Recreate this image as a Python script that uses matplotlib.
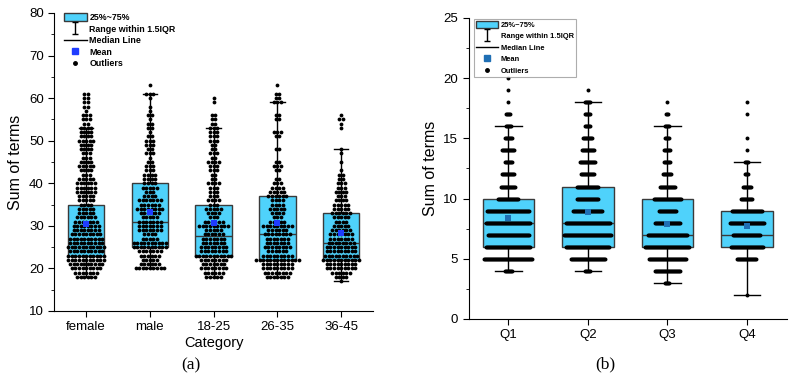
import matplotlib.pyplot as plt
from matplotlib.lines import Line2D
from matplotlib.patches import Patch
from matplotlib.path import Path

plt.rcParams['font.family'] = ['Liberation Sans', 'DejaVu Sans']

# ---- panel (a): demographic categories ----
cats_a = ["female", "male", "18-25", "26-35", "36-45"]

# (value, number of respondents) for every category
female = [(61, 2), (60, 2), (59, 2), (58, 2), (57, 1), (56, 3), (55, 3), (54, 2), (53, 4),
          (52, 4), (51, 4), (50, 5), (49, 4), (48, 4), (47, 3), (46, 3), (45, 4), (44, 5),
          (43, 4), (42, 3), (41, 5), (40, 6), (39, 6), (38, 6), (37, 5), (36, 5), (35, 4),
          (34, 5), (33, 5), (32, 6), (31, 7), (30, 8), (29, 8), (28, 9), (27, 10), (26, 10),
          (25, 11), (24, 10), (23, 11), (22, 11), (21, 10), (20, 9), (19, 7), (18, 6)]
male = [(63, 1), (61, 3), (60, 1), (58, 1), (57, 1), (56, 2), (55, 1), (54, 2), (53, 2),
        (52, 1), (51, 2), (50, 3), (49, 3), (48, 2), (47, 3), (46, 1), (45, 2), (44, 3),
        (43, 3), (42, 4), (41, 4), (40, 4), (39, 5), (38, 3), (37, 4), (36, 7), (35, 6),
        (34, 8), (33, 6), (32, 5), (31, 7), (30, 7), (29, 7), (28, 4), (27, 5), (26, 10),
        (25, 10), (24, 7), (23, 6), (22, 5), (21, 6), (20, 9)]
age_18_25 = [(60, 1), (59, 1), (56, 2), (55, 2), (54, 2), (53, 3), (52, 3), (51, 3), (50, 3),
             (49, 2), (48, 2), (47, 3), (46, 2), (45, 4), (44, 3), (43, 3), (42, 2), (41, 2),
             (40, 4), (39, 3), (38, 3), (37, 3), (36, 4), (35, 3), (34, 5), (33, 4), (32, 3),
             (31, 6), (30, 9), (29, 5), (28, 6), (27, 7), (26, 7), (25, 8), (24, 8), (23, 11),
             (22, 8), (21, 7), (20, 8), (19, 6), (18, 5)]
age_26_35 = [(63, 1), (61, 2), (60, 2), (59, 3), (56, 2), (55, 2), (52, 3), (51, 2), (48, 2),
             (45, 2), (44, 3), (43, 2), (41, 2), (40, 3), (39, 4), (38, 5), (37, 6), (36, 4),
             (35, 4), (34, 5), (33, 4), (32, 3), (31, 5), (30, 9), (29, 6), (28, 8), (27, 7),
             (26, 7), (25, 8), (24, 6), (23, 9), (22, 13), (21, 9), (20, 9), (19, 8), (18, 7)]
age_36_45 = [(56, 1), (55, 2), (54, 1), (53, 1), (48, 1), (47, 1), (45, 1), (43, 1), (42, 2),
             (41, 2), (40, 3), (39, 3), (38, 4), (37, 3), (36, 4), (35, 5), (34, 5), (33, 6),
             (32, 5), (31, 4), (30, 5), (29, 6), (28, 7), (27, 7), (26, 8), (25, 9), (24, 9),
             (23, 10), (22, 11), (21, 9), (20, 9), (19, 6), (18, 4), (17, 1)]
points_a = [female, male, age_18_25, age_26_35, age_36_45]

q1_a = [23, 25, 23, 22, 22]
med_a = [27, 31, 27.5, 28, 26]
q3_a = [35, 40, 35, 37, 33]
lo_a = [18, 20, 18, 18, 17]
hi_a = [53, 61, 53, 59, 48]
mean_a = [30.5, 33.2, 30.6, 30.7, 28.3]

# ---- panel (b): quarters ----
cats_b = ["Q1", "Q2", "Q3", "Q4"]
quarter1 = [(4, 8), (5, 49), (6, 45), (7, 42), (8, 45), (9, 43), (10, 21), (11, 15), (12, 13),
            (13, 8), (14, 13), (15, 8), (16, 6), (17, 5), (18, 1), (19, 1), (20, 1)]
quarter2 = [(4, 6), (5, 35), (6, 44), (7, 48), (8, 45), (9, 30), (10, 22), (11, 22), (12, 14),
            (13, 16), (14, 13), (15, 10), (16, 6), (17, 6), (18, 6), (19, 1)]
quarter3 = [(3, 5), (4, 26), (5, 38), (6, 45), (7, 40), (8, 26), (9, 18), (10, 28), (11, 16),
            (12, 9), (13, 7), (14, 7), (15, 5), (16, 5), (17, 3), (18, 1)]
quarter4 = [(2, 1), (5, 20), (6, 33), (7, 28), (8, 35), (9, 31), (10, 12), (11, 9), (12, 4),
            (13, 4), (14, 1), (15, 1), (17, 1), (18, 1)]
points_b = [quarter1, quarter2, quarter3, quarter4]

q1_b = [6, 6, 6, 6]
med_b = [8, 8, 7, 7]
q3_b = [10, 11, 10, 9]
lo_b = [4, 4, 3, 2]
hi_b = [16, 18, 16, 13]
mean_b = [8.4, 8.9, 7.9, 7.7]

BOX = '#4fd2fb'
EDGE = '#3a3a3a'


def draw_panel(ax, cats, points, q1, med, q3, lo, hi, mean, width, capw, step, dot, mean_col):
    pos = list(range(1, len(cats) + 1))
    stats = [dict(q1=a, med=b, q3=c, whislo=d, whishi=e, mean=m, fliers=[])
             for a, b, c, d, e, m in zip(q1, med, q3, lo, hi, mean)]
    ax.bxp(stats, positions=pos, widths=width, capwidths=capw, patch_artist=True,
           showmeans=False, showfliers=False,
           boxprops=dict(facecolor=BOX, edgecolor=EDGE, linewidth=1.0),
           medianprops=dict(color=EDGE, linewidth=1.0),
           whiskerprops=dict(color='black', linewidth=1.0),
           capprops=dict(color='black', linewidth=1.0), zorder=2)
    # data points, spread sideways
    for p, pts in zip(pos, points):
        xs, ys = [], []
        for v, n in pts:
            for k in range(n):
                xs.append(p + (k - (n - 1) / 2) * step)
                ys.append(v)
        ax.scatter(xs, ys, s=dot, color='black', linewidths=0, zorder=3)
    ax.scatter(pos, mean, marker='s', s=24, color=mean_col, linewidths=0, zorder=4)
    ax.set_xticks(pos)
    ax.set_xticklabels(cats, fontsize=9.5)
    ax.set_xlim(0.5, len(cats) + 0.5)
    ax.spines['top'].set_visible(False)
    ax.spines['right'].set_visible(False)
    ax.tick_params(direction='out', length=4, labelsize=9.5)
    ax.tick_params(which='minor', direction='out', length=2.5)
    ax.set_ylabel("Sum of terms", fontsize=11.5)


def legend_handles(mean_col):
    ibar = Path([(-0.6, 1), (0.6, 1), (0, 1), (0, -1), (-0.6, -1), (0.6, -1)],
                [Path.MOVETO, Path.LINETO, Path.MOVETO, Path.LINETO, Path.MOVETO, Path.LINETO])
    return [Patch(facecolor=BOX, edgecolor=EDGE, label="25%~75%"),
            Line2D([], [], linestyle='none', marker=ibar, markersize=8, markeredgecolor='black',
                   markerfacecolor='none', markeredgewidth=1, label="Range within 1.5IQR"),
            Line2D([], [], color='black', linewidth=1, label="Median Line"),
            Line2D([], [], linestyle='none', marker='s', markersize=4, color=mean_col, label="Mean"),
            Line2D([], [], linestyle='none', marker='o', markersize=2.5, color='black', label="Outliers")]


fig = plt.figure(figsize=(7.97, 3.82), dpi=100)
ax1 = fig.add_axes([0.068, 0.186, 0.40, 0.780])
ax2 = fig.add_axes([0.588, 0.165, 0.399, 0.788])

draw_panel(ax1, cats_a, points_a, q1_a, med_a, q3_a, lo_a, hi_a, mean_a,
           0.57, 0.23, 0.056, 7.5, '#1f3cff')
ax1.set_ylim(10, 80)
ax1.set_yticks(range(10, 81, 10))
ax1.set_yticks(range(15, 80, 10), minor=True)
ax1.set_xlabel("Category", fontsize=10.5, labelpad=2)
ax1.legend(handles=legend_handles('#1f3cff'), loc='upper left', bbox_to_anchor=(0.01, 1.02),
           frameon=False, prop=dict(size=6.4, weight='bold'), handlelength=2.6, handleheight=1.0,
           handletextpad=0.3, labelspacing=0.28, borderaxespad=0.3)

draw_panel(ax2, cats_b, points_b, q1_b, med_b, q3_b, lo_b, hi_b, mean_b,
           0.65, 0.33, 0.0126, 8, '#1f6fb4')
ax2.set_ylim(0, 25)
ax2.set_yticks(range(0, 26, 5))
ax2.set_yticks([2.5, 7.5, 12.5, 17.5, 22.5], minor=True)
leg = ax2.legend(handles=legend_handles('#1f6fb4'), loc='upper left', bbox_to_anchor=(0.01, 1.005),
                 frameon=True, fancybox=False, prop=dict(size=5.4, weight='bold'), handlelength=3.0,
                 handleheight=1.1, handletextpad=0.3, labelspacing=0.45, borderaxespad=0.3,
                 borderpad=0.25)
leg.get_frame().set_edgecolor('#999999')
leg.get_frame().set_linewidth(0.8)

fig.text(0.240, 0.032, "(a)", family='Liberation Serif', fontsize=12.5, ha='center')
fig.text(0.759, 0.035, "(b)", family='Liberation Serif', fontsize=12.5, ha='center')

fig.savefig("out.png", dpi=100)
